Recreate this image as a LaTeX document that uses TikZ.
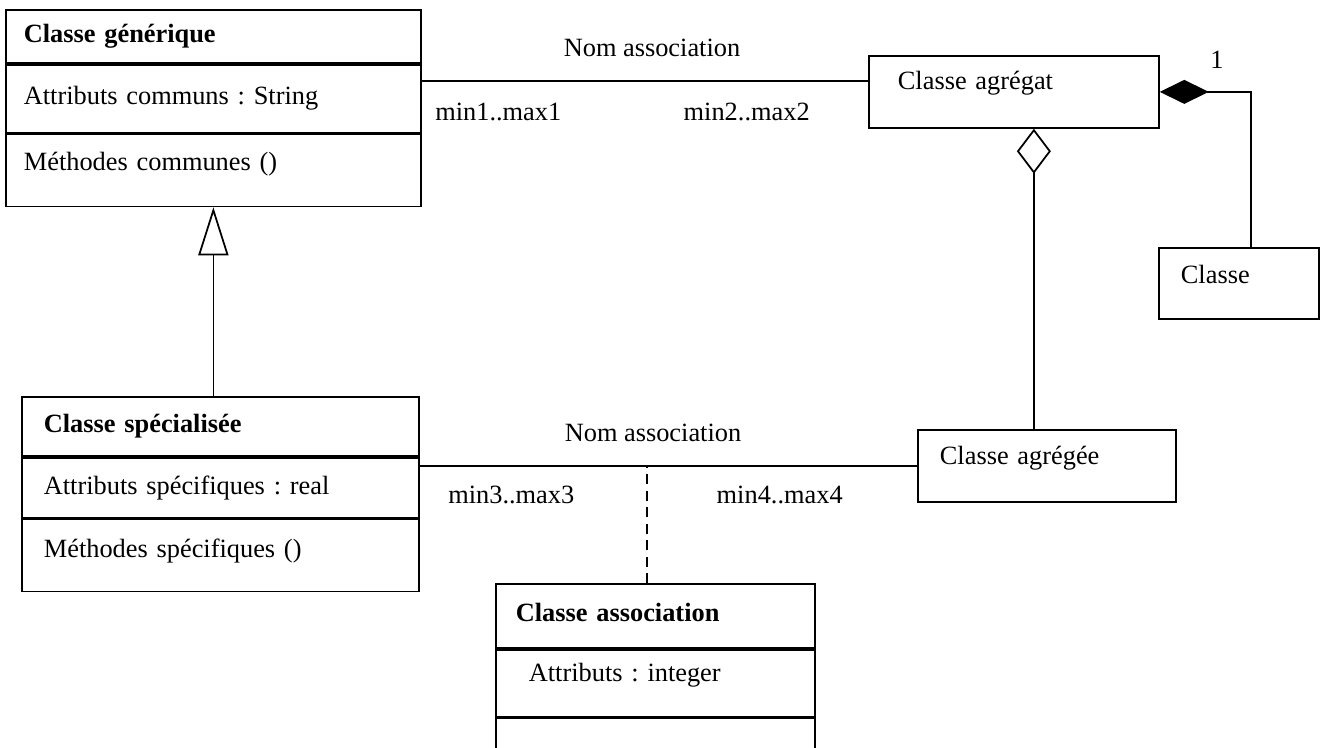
\documentclass[tikz,border=0pt]{standalone}
\usepackage{fontspec}
\setmainfont{Liberation Serif}
\usetikzlibrary{positioning,arrows.meta,shapes.geometric}
\frenchspacing

\begin{document}
\begin{tikzpicture}[
  umlrow/.style={rectangle, draw, line width=1pt, align=left, inner ysep=0pt, font=\fontsize{15}{18}\selectfont},
  umltitle/.style={umlrow, font=\fontsize{15}{18}\selectfont\bfseries},
  role/.style={inner sep=0pt, font=\fontsize{15}{18}\selectfont},
  link/.style={line width=1pt}
]
  \useasboundingbox (0,0) rectangle (26.54,-14.96);
  \clip (0,0) rectangle (26.54,-14.96);

  % classe generique
  \node[umltitle, anchor=north west, inner xsep=0.36cm, text width=7.58cm, minimum height=1.06cm] (genT) at (0.1,-0.18) {Classe générique};
  \node[umlrow, inner xsep=0.36cm, text width=7.58cm, minimum height=1.36cm, below=0pt of genT] (genA) {Attributs communs : String};
  \node[umlrow, inner xsep=0.36cm, text width=7.58cm, minimum height=1.44cm, text depth=0.36cm, below=0pt of genA] (genM) {Méthodes communes ()};

  % classe specialisee
  \node[umltitle, anchor=north west, inner xsep=0.44cm, text width=7.06cm, minimum height=1.18cm] (specT) at (0.42,-7.92) {Classe spécialisée};
  \node[umlrow, inner xsep=0.44cm, text width=7.06cm, minimum height=1.2cm, below=0pt of specT] (specA) {Attributs spécifiques : real};
  \node[umlrow, inner xsep=0.44cm, text width=7.06cm, minimum height=1.44cm, text depth=0.28cm, below=0pt of specA] (specM) {Méthodes spécifiques ()};

  % agregat, agregee, classe
  \node[umlrow, anchor=north west, inner xsep=0.58cm, text width=4.64cm, minimum height=1.44cm, text depth=0.48cm] (agr) at (17.36,-1.1) {Classe agrégat};
  \node[umlrow, anchor=north west, inner xsep=0.44cm, text width=2.32cm, minimum height=1.42cm, text depth=0.38cm] (cls) at (23.16,-4.94) {Classe};
  \node[umlrow, anchor=north west, inner xsep=0.44cm, text width=4.28cm, minimum height=1.44cm, text depth=0.44cm] (agg) at (18.34,-8.58) {Classe agrégée};

  % classe association
  \node[umltitle, anchor=north west, inner xsep=0.4cm, text width=5.58cm, minimum height=1.28cm, text depth=0.16cm] (ascT) at (9.9,-11.66) {Classe association};
  \node[umlrow, inner xsep=0.4cm, text width=5.58cm, minimum height=1.34cm, text depth=0.42cm, below=0pt of ascT] (ascA) {\hspace*{0.26cm}Attributs : integer};
  \node[umlrow, inner xsep=0.4cm, text width=5.58cm, minimum height=1.2cm, below=0pt of ascA] (ascM) {};

  % heritage
  \draw[link, -{Triangle[open, length=0.96cm, width=0.6cm]}] (genM.south |- specT.north) -- (genM.south);

  % associations
  \draw[link] ([yshift=0.22cm]agr.west) -- ([yshift=0.22cm]agr.west -| genA.east);
  \node[role] (nom1) at (13.04,-0.96) {Nom association};
  \node[role, anchor=west] (card1) at (8.7,-2.24) {min1..max1};
  \node[role, anchor=east] (card2) at (16.2,-2.24) {min2..max2};

  \draw[link] (agg.west) -- (agg.west -| specA.east);
  \node[role] (nom2) at (13.06,-8.66) {Nom association};
  \node[role, anchor=west] (card3) at (8.96,-9.9) {min3..max3};
  \node[role, anchor=east] (card4) at (16.86,-9.9) {min4..max4};
  \draw[link, dashed, dash pattern=on 0.2cm off 0.13cm] ([xshift=-0.17cm]ascT.north) -- ([xshift=-0.17cm]ascT.north |- agg.west);

  % agregation et composition
  \draw[link, -{Diamond[open, length=0.9cm, width=0.68cm]}] ([xshift=-0.26cm]agg.north) -- ([xshift=-0.26cm]agg.north |- agr.south);
  \draw[link, -{Diamond[length=0.98cm, width=0.48cm]}] ([xshift=0.24cm]cls.north) |- (agr.east);
  \node[role] (mult) at (24.34,-1.2) {1};
\end{tikzpicture}
\end{document}
